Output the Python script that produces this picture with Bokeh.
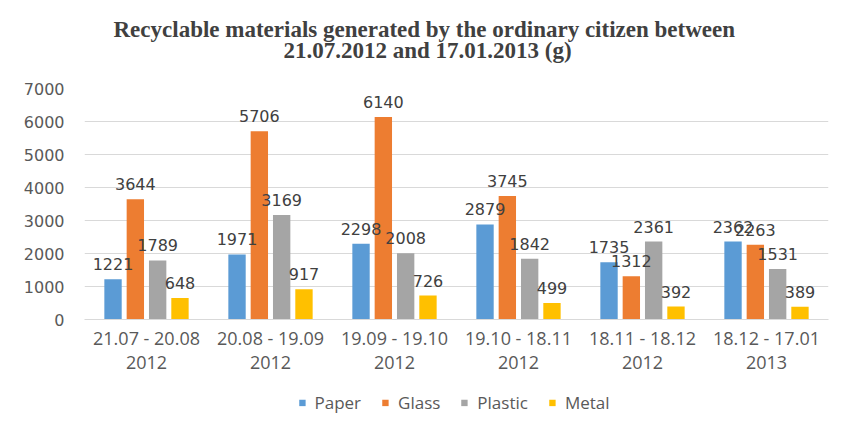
from bokeh.plotting import figure
from bokeh.layouts import column
from bokeh.models import ColumnDataSource, Range1d, FactorRange, LabelSet, Legend, LegendItem, FixedTicker, Title
from bokeh.core.properties import value
from bokeh.transform import dodge
from bokeh.embed import file_html
from bokeh.resources import INLINE

periods = ["21.07 - 20.08\n2012", "20.08 - 19.09\n2012", "19.09 - 19.10\n2012",
           "19.10 - 18.11\n2012", "18.11 - 18.12\n2012", "18.12 - 17.01\n2013"]
paper = [1221, 1971, 2298, 2879, 1735, 2362]
glass = [3644, 5706, 6140, 3745, 1312, 2263]
plastic = [1789, 3169, 2008, 1842, 2361, 1531]
metal = [648, 917, 726, 499, 392, 389]
title_lines = ["Recyclable materials generated by the ordinary  citizen between",
               "21.07.2012 and 17.01.2013 (g)"]

series = [("Paper", paper, "#5B9BD5"), ("Glass", glass, "#ED7D31"),
          ("Plastic", plastic, "#A5A5A5"), ("Metal", metal, "#FFC000")]
offsets = [-0.27, -0.09, 0.09, 0.27]

p = figure(frame_width=744, frame_height=231, x_range=FactorRange(*periods, range_padding=0),
           y_range=Range1d(0, 7000), output_backend="svg", toolbar_location=None)
p.min_border_left = 84
p.min_border_right = 17
p.min_border_top = 88
p.min_border_bottom = 66
p.outline_line_color = None

def mk_title(t, standoff, offset):
    return Title(text=t, align="left", offset=offset, text_font="Liberation Serif",
                 text_font_size="23px", text_font_style="bold", text_color="#404040",
                 standoff=standoff)

p.add_layout(mk_title(title_lines[1], 52, 199), "above")
p.add_layout(mk_title(title_lines[0], -64, 29), "above")

# legend lives in its own strip below the chart
leg_fig = figure(width=845, height=34, x_range=Range1d(0, 1), y_range=Range1d(0, 1),
                 x_axis_location=None, y_axis_location=None,
                 output_backend="svg", toolbar_location=None)
leg_fig.min_border = 0
leg_fig.min_border_right = 22
leg_fig.outline_line_color = None
leg_fig.grid.visible = False

items = []
for (name, vals, col), off in zip(series, offsets):
    src = ColumnDataSource(dict(x=periods, y=vals, t=[str(v) for v in vals]))
    p.vbar(x=dodge("x", off, range=p.x_range), top="y", width=0.14, source=src,
           fill_color=col, line_color=None)
    labels = LabelSet(x=dodge("x", off, range=p.x_range), y="y", text="t", source=src,
                      text_align="center", text_baseline="bottom", y_offset=9,
                      text_font=value("DejaVu Sans"), text_font_size="16px", text_color="#404040")
    p.add_layout(labels)
    # swatch renderer kept outside the visible range of the legend strip
    swatch = leg_fig.vbar(x=[-1], top=[-1], width=0.1, fill_color=col, line_color=None)
    items.append(LegendItem(label=name, renderers=[swatch]))

p.yaxis.ticker = FixedTicker(ticks=list(range(0, 7001, 1000)))
p.yaxis.axis_line_color = None
p.yaxis.major_tick_line_color = None
p.yaxis.minor_tick_line_color = None
p.yaxis.major_label_text_font = "DejaVu Sans"
p.yaxis.major_label_text_font_size = "16px"
p.yaxis.major_label_text_color = "#595959"
p.yaxis.major_label_standoff = 14

p.xaxis.axis_line_color = "#D9D9D9"
p.xaxis.major_tick_line_color = None
p.xaxis.major_tick_out = 0
p.xaxis.major_label_text_font = "Open Sans"
p.xaxis.major_label_text_font_size = "18px"
p.xaxis.major_label_text_line_height = 1.0
p.xaxis.major_label_text_color = "#595959"
p.xaxis.major_label_standoff = 6

p.xgrid.grid_line_color = None
p.ygrid.grid_line_color = "#D9D9D9"

legend = Legend(items=items, orientation="horizontal", location="center",
                glyph_width=8, glyph_height=8, label_text_font="Open Sans",
                label_text_font_size="17px", label_text_color="#595959",
                border_line_color=None, background_fill_alpha=0,
                spacing=20, label_standoff=9, margin=0, padding=2)
leg_fig.add_layout(legend)

layout = column(p, leg_fig, spacing=0)
open("out.html", "w").write(file_html(layout, INLINE))
